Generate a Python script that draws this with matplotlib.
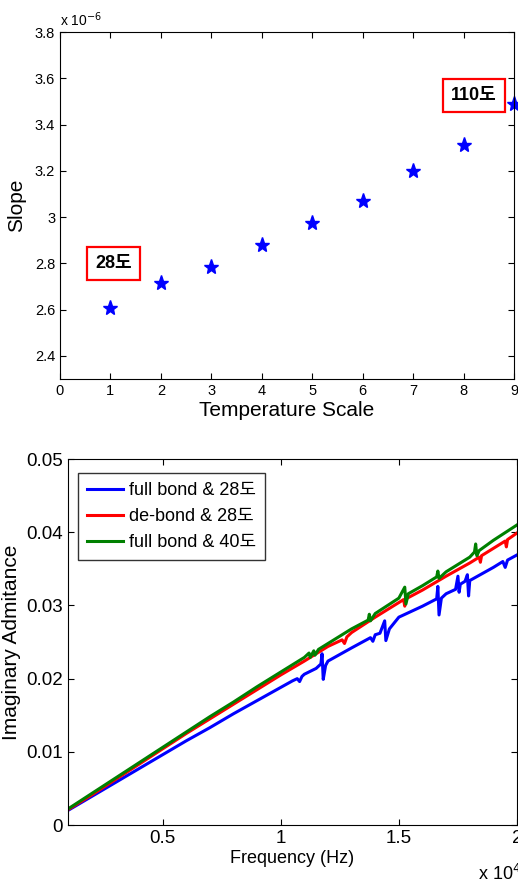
import numpy as np
import matplotlib
matplotlib.use('Agg')
import matplotlib.pyplot as plt

plt.rcParams['font.family'] = ['Liberation Sans', 'Noto Sans CJK KR', 'DejaVu Sans']

# top panel: slope vs temperature scale
temp_scale = [1, 2, 3, 4, 5, 6, 7, 8, 9]
slope = [2.605e-6, 2.715e-6, 2.785e-6, 2.88e-6, 2.975e-6, 3.07e-6, 3.2e-6, 3.31e-6, 3.49e-6]

# bottom panel: imaginary admittance vs frequency (x in units of 1e4 Hz)
blue_x = [0.1, 0.2, 0.3, 0.4, 0.5, 0.6, 0.7, 0.8, 0.9, 1.0, 1.05, 1.07, 1.08, 1.09, 1.1, 1.15,
          1.17, 1.175, 1.18, 1.19, 1.2, 1.3, 1.38, 1.39, 1.4, 1.42, 1.44, 1.445, 1.46, 1.5, 1.6,
          1.66, 1.665, 1.67, 1.68, 1.7, 1.74, 1.75, 1.755, 1.76, 1.78, 1.79, 1.795, 1.8, 1.9,
          1.94, 1.95, 1.96, 2.0]
blue_y = [0.0020, 0.0039, 0.0058, 0.0077, 0.0096, 0.0115, 0.0133, 0.0152, 0.0170, 0.0188, 0.0197,
          0.0200, 0.0196, 0.0203, 0.0206, 0.0214, 0.0220, 0.0234, 0.0199, 0.0218, 0.0224, 0.0242,
          0.0256, 0.0251, 0.0260, 0.0262, 0.0279, 0.0252, 0.0268, 0.0284, 0.0299, 0.0309, 0.0326,
          0.0287, 0.0310, 0.0316, 0.0322, 0.0340, 0.0318, 0.0329, 0.0333, 0.0342, 0.0313, 0.0334,
          0.0352, 0.0360, 0.0352, 0.0362, 0.0369]

red_x = [0.1, 0.2, 0.3, 0.4, 0.5, 0.6, 0.7, 0.8, 0.9, 1.0, 1.1, 1.2, 1.26, 1.27, 1.28, 1.3, 1.4,
         1.5, 1.52, 1.525, 1.53, 1.6, 1.7, 1.8, 1.84, 1.845, 1.85, 1.9, 1.95, 1.955, 1.96, 2.0]
red_y = [0.0021, 0.0041, 0.0062, 0.0083, 0.0104, 0.0125, 0.0145, 0.0165, 0.0185, 0.0205, 0.0224,
         0.0244, 0.0253, 0.0248, 0.0257, 0.0263, 0.0284, 0.0304, 0.0308, 0.0299, 0.0309, 0.0321,
         0.0340, 0.0358, 0.0366, 0.0359, 0.0368, 0.0378, 0.0388, 0.0380, 0.0390, 0.0399]

green_x = [0.1, 0.2, 0.3, 0.4, 0.5, 0.6, 0.7, 0.8, 0.9, 1.0, 1.1, 1.12, 1.125, 1.14, 1.145, 1.16,
           1.2, 1.3, 1.37, 1.375, 1.38, 1.4, 1.5, 1.525, 1.53, 1.54, 1.6, 1.66, 1.665, 1.67, 1.7,
           1.8, 1.82, 1.825, 1.83, 1.84, 1.9, 2.0]
green_y = [0.0022, 0.0043, 0.0064, 0.0085, 0.0106, 0.0127, 0.0148, 0.0168, 0.0189, 0.0209, 0.0229,
           0.0235, 0.0229, 0.0238, 0.0232, 0.0240, 0.0248, 0.0268, 0.0280, 0.0288, 0.0279, 0.0289,
           0.0310, 0.0325, 0.0302, 0.0316, 0.0327, 0.0339, 0.0347, 0.0337, 0.0346, 0.0366, 0.0373,
           0.0384, 0.0368, 0.0375, 0.0389, 0.0410]

labels = ['full bond & 28도', 'de-bond & 28도', 'full bond & 40도']

fig = plt.figure(figsize=(5.18, 8.84), dpi=100)

# ---- top panel ----
ax1 = fig.add_axes([0.1158, 0.5713, 0.8764, 0.3925])
ax1.plot(temp_scale, slope, '*', color='#0000ff', markersize=11, clip_on=False)
ax1.set_xlim(0, 9)
ax1.set_ylim(2.3e-6, 3.8e-6)
ax1.set_xticks(range(0, 10))
yt = np.arange(2.4, 3.81, 0.2)
ax1.set_yticks(yt * 1e-6)
ax1.set_yticklabels(['%g' % round(v, 1) for v in yt])
ax1.tick_params(direction='in', top=True, right=True, labelsize=10.5, length=4)
ax1.set_xlabel('Temperature Scale', fontsize=15, labelpad=2)
ax1.set_ylabel('Slope', fontsize=15, labelpad=6)
ax1.text(0.0, 1.01, 'x 10$^{-6}$', transform=ax1.transAxes, fontsize=10, va='bottom', ha='left')

box = dict(boxstyle='square,pad=0.45', facecolor='white', edgecolor='#ff0000', linewidth=1.6)
ax1.text(1.06, 2.80e-6, '28도', fontsize=13, fontweight='bold', ha='center', va='center', bbox=box)
ax1.text(8.2, 3.525e-6, '110도', fontsize=13, fontweight='bold', ha='center', va='center', bbox=box)

# ---- bottom panel ----
ax2 = fig.add_axes([0.1313, 0.0667, 0.8668, 0.414])
ax2.plot(blue_x, blue_y, color='#0000ff', linewidth=2.2, label=labels[0])
ax2.plot(red_x, red_y, color='#ff0000', linewidth=2.2, label=labels[1])
ax2.plot(green_x, green_y, color='#008000', linewidth=2.2, label=labels[2])
ax2.set_xlim(0.1, 2.0)
ax2.set_ylim(0, 0.05)
ax2.set_xticks([0.5, 1, 1.5, 2])
ax2.set_xticklabels(['0.5', '1', '1.5', '2'])
ax2.set_yticks([0, 0.01, 0.02, 0.03, 0.04, 0.05])
ax2.set_yticklabels(['0', '0.01', '0.02', '0.03', '0.04', '0.05'])
ax2.tick_params(direction='in', top=True, right=True, labelsize=13.5, length=4)
ax2.set_xlabel('Frequency (Hz)', fontsize=13, labelpad=2)
ax2.set_ylabel('Imaginary Admitance', fontsize=15, labelpad=4)
fig.text(478 / 518, 1 - 864 / 884, 'x 10$^{4}$', fontsize=13, va='top', ha='left')

leg = ax2.legend(loc='upper left', bbox_to_anchor=(0.0223, 0.9617), borderaxespad=0,
                 fontsize=13, frameon=True, fancybox=False, handlelength=2.0,
                 labelspacing=0.5, handletextpad=0.3, borderpad=0.5)
leg.get_frame().set_edgecolor('black')
leg.get_frame().set_linewidth(1.0)

fig.savefig('out.png', dpi=100)
